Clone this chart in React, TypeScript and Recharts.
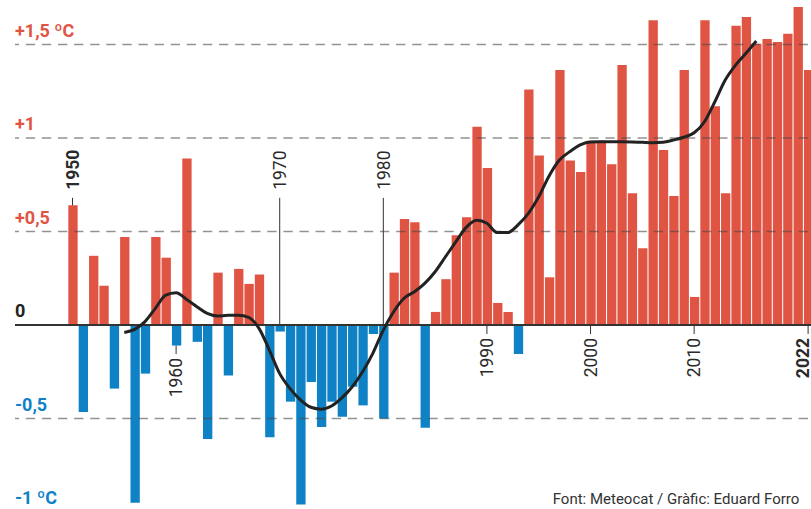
import { ComposedChart, Bar, Line, Cell, XAxis, YAxis, ReferenceLine, ReferenceDot } from "recharts";

// Temperature anomaly per year (ºC), Catalonia, from 1950
const FIRST_YEAR = 1950;
const ANOMALY = [
  0.64, -0.465, 0.37, 0.21, -0.34, 0.47, -0.95, -0.26, 0.47, 0.36,
  -0.11, 0.89, -0.09, -0.61, 0.28, -0.27, 0.3, 0.22, 0.27, -0.6,
  -0.035, -0.41, -0.96, -0.305, -0.545, -0.41, -0.49, -0.33, -0.43, -0.048,
  -0.5, 0.28, 0.567, 0.55, -0.55, 0.07, 0.245, 0.48, 0.576, 1.06,
  0.84, 0.118, 0.07, -0.155, 1.26, 0.907, 0.255, 1.364, 0.88, 0.818,
  0.985, 0.985, 0.86, 1.39, 0.704, 0.41, 1.63, 0.936, 0.69, 1.364,
  0.15, 1.63, 1.17, 0.704, 1.6, 1.647, 1.504, 1.529, 1.513, 1.558,
  1.7, 1.364,
];

// smoothed trend, 1955-2016
const TREND_START = 1955;
const TREND = [
  -0.04, -0.023, 0.018, 0.089, 0.16, 0.173, 0.137, 0.098, 0.062, 0.048,
  0.052, 0.052, 0.041, -0.018, -0.134, -0.26, -0.34, -0.4, -0.44, -0.45,
  -0.433, -0.39, -0.33, -0.25, -0.15, -0.027, 0.071, 0.143, 0.178, 0.223,
  0.285, 0.365, 0.445, 0.522, 0.56, 0.544, 0.494, 0.494, 0.535, 0.597,
  0.686, 0.797, 0.882, 0.927, 0.963, 0.979, 0.98, 0.98, 0.98, 0.979,
  0.977, 0.975, 0.977, 0.989, 1.004, 1.028, 1.087, 1.194, 1.31, 1.39,
  1.453, 1.519,
];

const Y_TICKS = [-1, -0.5, 0, 0.5, 1, 1.5];
const Y_LABELS = ["-1 ºC", "-0,5", "0", "+0,5", "+1", "+1,5 ºC"];

// year marks: where the leader starts ("bar" end or "zero") and where it ends (ºC)
const YEAR_MARKS = [
  { year: 1950, text: "1950", from: "bar", to: 0.68, bold: true },
  { year: 1960, text: "1960", from: "bar", to: -0.155, bold: false },
  { year: 1970, text: "1970", from: "zero", to: 0.68, bold: false },
  { year: 1980, text: "1980", from: "zero", to: 0.68, bold: false },
  { year: 1990, text: "1990", from: "zero", to: -0.048, bold: false },
  { year: 2000, text: "2000", from: "zero", to: -0.048, bold: false },
  { year: 2010, text: "2010", from: "zero", to: -0.048, bold: false },
  { year: 2021, text: "2022", from: "zero", to: -0.048, bold: true },
];

const X_DOMAIN = [1944.45, 2021.28];
const Y_DOMAIN = [-1, 1.72];
const RED = "#e05444";
const BLUE = "#0f82c6";
const FONT = "Roboto, sans-serif";

const data = ANOMALY.map((v, i) => {
  const year = FIRST_YEAR + i;
  const t = year - TREND_START;
  return { year, anomaly: v, trend: t >= 0 && t < TREND.length ? TREND[t] : null };
});

function YLabel(props: any) {
  const { cx, cy, value, text } = props;
  if (cx == null || cy == null) return null;
  const color = value > 0 ? RED : value < 0 ? BLUE : "#222";
  return (
    <text x={cx} y={cy - 7.7} fill={color} fontSize={18} fontWeight={700} fontFamily={FONT}>
      {text}
    </text>
  );
}

function YearText(props: any) {
  const { cx, cy, text, up, bold } = props;
  if (cx == null || cy == null) return null;
  const tx = Math.min(cx + 6.2, 809);
  const ty = up ? cy - 8 : cy + 4;
  return (
    <text
      transform={`translate(${tx}, ${ty}) rotate(-90)`}
      textAnchor={up ? "start" : "end"}
      fontSize={17.5}
      fontWeight={bold ? 700 : 400}
      fontFamily={FONT}
      fill="#2a2a2a"
    >
      {text}
    </text>
  );
}

export default function App() {
  return (
    <div style={{ position: "absolute", left: 0, top: 0, width: 811, height: 509, overflow: "hidden", background: "#fff" }}>
      <ComposedChart
        width={811}
        height={515}
        data={data}
        margin={{ top: 3.36, right: 0, bottom: 3, left: 15 }}
        barCategoryGap={0}
      >
        <XAxis dataKey="year" type="number" domain={X_DOMAIN} allowDataOverflow hide />
        <YAxis type="number" domain={Y_DOMAIN} allowDataOverflow hide />
        <Bar dataKey="anomaly" barSize={11} isAnimationActive={false}>
          {data.map((d) => (
            <Cell key={d.year} fill={d.anomaly >= 0 ? RED : BLUE} />
          ))}
        </Bar>
        {Y_TICKS.filter((v) => v !== 0).map((v) => (
          <ReferenceLine
            key={v}
            y={v}
            stroke="#4a4a4a"
            strokeOpacity={0.6}
            strokeWidth={1.6}
            strokeDasharray="9.3 6.8"
            strokeDashoffset={5.3}
          />
        ))}
        <ReferenceLine y={0} stroke="#333" strokeWidth={2} />
        {Y_TICKS.map((v, i) => (
          <ReferenceDot
            key={`y${v}`}
            x={X_DOMAIN[0]}
            y={v}
            r={1}
            ifOverflow="visible"
            shape={(p: any) => <YLabel cx={p.cx} cy={p.cy} value={v} text={Y_LABELS[i]} />}
          />
        ))}
        {YEAR_MARKS.map((m) => {
          const start = m.from === "bar" ? ANOMALY[m.year - FIRST_YEAR] : 0;
          return (
            <ReferenceLine
              key={`l${m.year}`}
              segment={[{ x: m.year, y: start }, { x: m.year, y: m.to }]}
              stroke="#333"
              strokeWidth={1}
            />
          );
        })}
        {YEAR_MARKS.map((m) => (
          <ReferenceDot
            key={`t${m.year}`}
            x={m.year}
            y={m.to}
            r={1}
            shape={(p: any) => <YearText cx={p.cx} cy={p.cy} text={m.text} up={m.to > 0} bold={m.bold} />}
          />
        ))}
        <Line
          dataKey="trend"
          type="monotone"
          stroke="#222"
          strokeWidth={3}
          dot={false}
          activeDot={false}
          isAnimationActive={false}
        />
      </ComposedChart>
      <svg width={811} height={509} style={{ position: "absolute", left: 0, top: 0, pointerEvents: "none" }}>
        <text x={552.7} y={504.3} fontSize={15} fontFamily={FONT} fill="#333">
          Font: Meteocat / Gràfic: Eduard Forro
        </text>
      </svg>
    </div>
  );
}
